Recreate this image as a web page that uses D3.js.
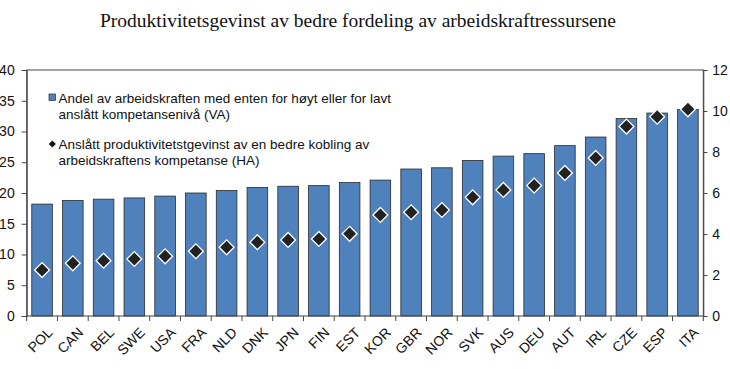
<!DOCTYPE html>
<html>
<head>
<meta charset="utf-8">
<script src="https://cdn.jsdelivr.net/npm/d3@7"></script>
<style>
  body { margin: 0; background: #fff; }
  svg { display: block; font-family: "Liberation Sans", Arial, sans-serif; }
</style>
</head>
<body>
<div id="chart"></div>
<script>
const countries = ["POL", "CAN", "BEL", "SWE", "USA", "FRA", "NLD", "DNK", "JPN", "FIN", "EST",
    "KOR", "GBR", "NOR", "SVK", "AUS", "DEU", "AUT", "IRL", "CZE", "ESP", "ITA"];

// Share of workforce with too high or too low skills (VA, left axis)
const shareVA = [18.2, 18.8, 19.0, 19.2, 19.5, 20.0, 20.4, 20.9, 21.1, 21.2, 21.7,
    22.1, 23.9, 24.1, 25.3, 26.0, 26.4, 27.7, 29.1, 32.1, 33.0, 33.6];

// Estimated productivity gain (HA, right axis)
const gainHA = [2.24, 2.57, 2.70, 2.78, 2.91, 3.16, 3.35, 3.60, 3.71, 3.76, 4.01,
    4.93, 5.06, 5.17, 5.79, 6.15, 6.36, 6.98, 7.71, 9.24, 9.72, 10.08];

const leftTicks = [0, 5, 10, 15, 20, 25, 30, 35, 40];
const rightTicks = [0, 2, 4, 6, 8, 10, 12];

const title = "Produktivitetsgevinst av bedre fordeling av arbeidskraftressursene";
const legendVA = ["Andel av arbeidskraften med enten for høyt eller for lavt", "anslått kompetansenivå (VA)"];
const legendHA = ["Anslått produktivitetstgevinst av en bedre kobling av", "arbeidskraftens kompetanse (HA)"];

const width = 730, height = 369;
const plotLeft = 26.7, plotRight = 703.3, plotTop = 70, plotBottom = 316;
const axisColor = "#444";

const svg = d3.select("#chart").append("svg")
    .attr("width", width)
    .attr("height", height);

const x = d3.scaleBand()
    .domain(countries)
    .range([plotLeft, plotRight])
    .paddingInner(0.33)
    .paddingOuter(0.165);

const yL = d3.scaleLinear().domain([0, 40]).range([plotBottom, plotTop]);
const yR = d3.scaleLinear().domain([0, 12]).range([plotBottom, plotTop]);

// Title
svg.append("text")
    .attr("x", 358)
    .attr("y", 27)
    .attr("text-anchor", "middle")
    .style("font-family", "'Liberation Serif', 'Times New Roman', serif")
    .style("font-size", "19.5px")
    .attr("fill", "#111")
    .text(title);

// Bars
svg.selectAll("rect.bar")
    .data(countries)
    .enter()
    .append("rect")
    .classed("bar", true)
    .attr("x", d => x(d))
    .attr("y", (d, i) => yL(shareVA[i]))
    .attr("width", x.bandwidth())
    .attr("height", (d, i) => yL(0) - yL(shareVA[i]))
    .attr("fill", "#4f81bd")
    .attr("stroke", "#2b2b2b")
    .attr("stroke-width", 0.8);

// Diamonds
const diamond = d3.symbol().type(d3.symbolSquare).size(110);
svg.selectAll("path.ha")
    .data(countries)
    .enter()
    .append("path")
    .classed("ha", true)
    .attr("d", diamond)
    .attr("transform", (d, i) => `translate(${x(d) + x.bandwidth() / 2},${yR(gainHA[i])}) rotate(45)`)
    .attr("fill", "#222")
    .attr("stroke", "#fff")
    .attr("stroke-width", 1.3);

// Frame
svg.append("rect")
    .attr("x", plotLeft)
    .attr("y", plotTop)
    .attr("width", plotRight - plotLeft)
    .attr("height", plotBottom - plotTop)
    .attr("fill", "none")
    .attr("stroke", axisColor)
    .attr("stroke-width", 1);

// Left axis
const gL = svg.append("g")
    .attr("transform", `translate(${plotLeft},0)`)
    .call(d3.axisLeft(yL).tickValues(leftTicks).tickSize(5).tickPadding(7));

// Right axis
const gR = svg.append("g")
    .attr("transform", `translate(${plotRight},0)`)
    .call(d3.axisRight(yR).tickValues(rightTicks).tickSize(4).tickPadding(5));

[gL, gR].forEach(g => {
    g.select(".domain").attr("stroke", axisColor);
    g.selectAll(".tick line").attr("stroke", axisColor);
    g.selectAll(".tick text")
        .style("font-family", "'Liberation Sans', Arial, sans-serif")
        .style("font-size", "14px")
        .attr("fill", "#111");
});

// Bottom axis: ticks at category boundaries, rotated labels
const step = x.step();
const gB = svg.append("g").attr("transform", `translate(0,${plotBottom})`);
gB.selectAll("line.sep")
    .data(d3.range(countries.length + 1))
    .enter()
    .append("line")
    .classed("sep", true)
    .attr("x1", i => plotLeft + i * step)
    .attr("x2", i => plotLeft + i * step)
    .attr("y1", 0)
    .attr("y2", 5)
    .attr("stroke", axisColor);
gB.selectAll("g.lab")
    .data(countries)
    .enter()
    .append("g")
    .classed("lab", true)
    .attr("transform", d => `translate(${x(d) + x.bandwidth() / 2 + 4},10) rotate(-45)`)
    .append("text")
    .attr("text-anchor", "end")
    .attr("dy", "0.75em")
    .style("font-size", "14px")
    .attr("fill", "#111")
    .text(d => d);

// Legend
const legend = svg.append("g").style("font-size", "13.5px").attr("fill", "#111");
legend.append("rect")
    .attr("x", 49)
    .attr("y", 94)
    .attr("width", 6.5)
    .attr("height", 6.5)
    .attr("fill", "#4f81bd")
    .attr("stroke", "#2b2b2b")
    .attr("stroke-width", 0.7);
legend.append("path")
    .attr("d", d3.symbol().type(d3.symbolSquare).size(26))
    .attr("transform", "translate(52.3,144) rotate(45)")
    .attr("fill", "#111");
[[legendVA, 102.5], [legendHA, 148.5]].forEach(([lines, y0]) => {
    lines.forEach((t, j) => {
        legend.append("text")
            .attr("x", 58.5)
            .attr("y", y0 + j * 16.5)
            .text(t);
    });
});
</script>
</body>
</html>
